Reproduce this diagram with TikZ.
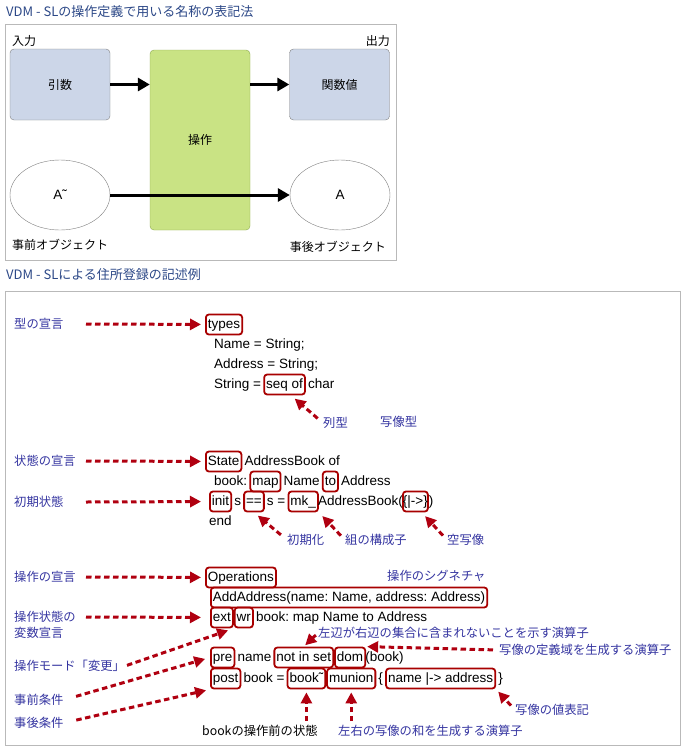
\documentclass[tikz,border=0pt]{standalone}
\usepackage{fontspec}
\setmainfont{Liberation Sans}
\newfontfamily\jpfont{Noto Sans CJK JP}
\usepackage{xcolor}
\usetikzlibrary{arrows.meta,positioning,shapes.geometric}
\frenchspacing
\definecolor{titleblue}{RGB}{44,72,135}
\definecolor{noteblue}{RGB}{52,52,160}
\definecolor{boxred}{RGB}{168,0,0}
\definecolor{arrowred}{RGB}{176,0,16}
\definecolor{framegray}{RGB}{185,185,185}
\definecolor{inblue}{RGB}{204,214,232}
\definecolor{opgreen}{RGB}{201,227,132}
\definecolor{opedge}{RGB}{140,170,80}
\newcommand{\codefont}{\fontsize{13.5pt}{16pt}\selectfont}
\newcommand{\notefont}{\jpfont\fontsize{12.3pt}{16pt}\selectfont}
\tikzset{
  frame/.style={draw=framegray,line width=1pt},
  heading/.style={font=\jpfont\fontsize{13pt}{15pt}\selectfont,text=titleblue,anchor=west,inner sep=0pt},
  jptext/.style={font=\jpfont\fontsize{12pt}{14pt}\selectfont,inner sep=0pt},
  valbox/.style={jptext,draw=gray,fill=inblue,rounded corners=4pt,minimum width=100pt,minimum height=71pt},
  opbox/.style={jptext,draw=opedge,fill=opgreen,rounded corners=4pt,minimum width=100pt,minimum height=180pt},
  objell/.style={ellipse,draw=gray,fill=white,minimum width=100pt,minimum height=70pt,font=\codefont},
  flow/.style={-{Triangle[length=12pt,width=13pt]},line width=3pt},
  code/.style={font=\codefont,anchor=west,inner xsep=2pt,inner ysep=3.5pt,text height=10pt,text depth=3pt},
  keybox/.style={code,draw=boxred,line width=1.8pt,rounded corners=3pt},
  note/.style={font=\notefont,text=noteblue,anchor=west,inner sep=0pt},
  hint/.style={-{Triangle[length=11pt,width=11pt]},draw=arrowred,line width=3pt,dash pattern=on 5.5pt off 3.5pt}
}
\begin{document}
\begin{tikzpicture}[x=1pt,y=-1pt,node distance=0pt]
\useasboundingbox (0,0) rectangle (685,750);

% notation of an operation
\node[heading] (head1) at (6,12) {VDM - SLの操作定義で用いる名称の表記法};
\draw[frame] (5,24) rectangle (396,260);
\node[jptext,anchor=west] (inlbl) at (12,41) {入力};
\node[jptext,anchor=east] (outlbl) at (390,41) {出力};
\node[valbox] (arg) at (60,84.5) {引数};
\node[opbox] (op) at (200,140) {操作};
\node[valbox] (ret) at (339.5,84.5) {関数値};
\node[objell] (before) at (60,195) {A˜};
\node[objell] (after) at (340,195) {A};
\node[jptext,anchor=west] (beforelbl) at (12,245) {事前オブジェクト};
\node[jptext,anchor=east] (afterlbl) at (386,247) {事後オブジェクト};
\draw[flow] (arg.east) -- (arg.east -| op.west);
\draw[flow] (op.east |- ret.west) -- (ret.west);
\draw[flow] (before) -- (after);

% address book example
\node[heading] (head2) at (6,275) {VDM - SLによる住所登録の記述例};
\draw[frame] (5,291) rectangle (680,745);

\node[keybox] (types) at (205,324.5) {types};
\node[code] (tline1) at (212,344.5) {Name = String;};
\node[code] (tline2) at (212,364.5) {Address = String;};
\node[code] (tline3) at (212,384.5) {String =};
\node[keybox] (seqof) [right=of tline3] {seq of};
\node[code] (chartxt) [right=of seqof] {char};

\node[keybox] (state) at (205,461.5) {State};
\node[code] (sline) [right=of state] {AddressBook of};
\node[code] (bookl) at (212,481.5) {book:};
\node[keybox] (mapk) [right=of bookl] {map};
\node[code] (namew) [right=of mapk] {Name};
\node[keybox] (tok) [right=of namew] {to};
\node[code] (addrw) [right=of tok] {Address};
\node[keybox] (initk) at (209,501.5) {init};
\node[code] (sw) [right=of initk] {s};
\node[keybox] (eqeq) [right=of sw] {==};
\node[code] (sw2) [right=of eqeq] {s =};
\node[keybox] (mk) [right=of sw2] {mk\_};
\node[code] (abk) [right=-3pt of mk] {AddressBook(};
\node[keybox,inner xsep=0pt] (emp) [right=-3pt of abk] {\{|->\}};
\node[code] (closep) [right=-2pt of emp] {)};
\node[code] (endw) at (207,521.5) {end};

\node[keybox] (ops) at (205,577.5) {Operations};
\node[keybox] (sig) at (210,597.5) {AddAddress(name: Name, address: Address)};
\node[keybox] (ext) at (210,617.5) {ext};
\node[keybox] (wr) [right=of ext] {wr};
\node[code] (extrest) [right=of wr] {book: map Name to Address};
\node[keybox] (pre) at (210,657.5) {pre};
\node[code] (prename) [right=of pre] {name};
\node[keybox] (notin) [right=of prename] {not in set};
\node[keybox] (dom) [right=of notin] {dom};
\node[code] (dombook) [right=-3pt of dom] {(book)};
\node[keybox] (post) at (210,678.5) {post};
\node[code] (postbook) [right=of post] {book =};
\node[keybox] (bookold) [right=of postbook] {book˜};
\node[keybox] (munion) [right=of bookold] {munion};
\node[code] (lbrace) [right=of munion] {\{};
\node[keybox] (maplet) [right=of lbrace] {name |-> address};
\node[code] (rbrace) [right=of maplet] {\}};

% notes
\node[note] (typelbl) at (14,324) {型の宣言};
\node[note] (rowlbl) at (323,423) {列型};
\node[note] (mapty) at (380,422) {写像型};
\node[note] (statelbl) at (14,461) {状態の宣言};
\node[note] (initlbl) at (14,502) {初期状態};
\node[note] (initzlbl) at (287,540) {初期化};
\node[note] (tuplelbl) at (345,540) {組の構成子};
\node[note] (emplbl) at (447,540) {空写像};
\node[note] (opslbl) at (14,577) {操作の宣言};
\node[note] (siglbl) at (387,576) {操作のシグネチャ};
\node[note] (extlbl) at (14,617) {操作状態の};
\node[note] (extlbl2) at (14,633) {変数宣言};
\node[note] (notinlbl) at (318,633) {左辺が右辺の集合に含まれないことを示す演算子};
\node[note] (domlbl) at (499,650) {写像の定義域を生成する演算子};
\node[note] (modelbl) at (14,666) {操作モード「変更」};
\node[note] (prelbl) at (14,700) {事前条件};
\node[note] (vallbl) at (515,710) {写像の値表記};
\node[note] (postlbl) at (14,723) {事後条件};
\node[note,text=black] (oldlbl) at (202,731) {bookの操作前の状態};
\node[note] (unionlbl) at (338,731) {左右の写像の和を生成する演算子};

\coordinate (tail) at (86,0);
\draw[hint,shorten >=4pt] (typelbl.east -| tail) -- (types);
\draw[hint,shorten >=4pt] (statelbl.east -| tail) -- (state);
\draw[hint,shorten >=8pt] (initlbl.east -| tail) -- (initk);
\draw[hint,shorten >=4pt] (opslbl.east -| tail) -- (ops);
\draw[hint,shorten >=9pt] (extlbl.east -| tail) -- (ext);
\draw[hint,shorten <=2pt,shorten >=6pt] (modelbl.east) -- (ext.south east);
\draw[hint,shorten <=13pt,shorten >=5pt] (prelbl.east) -- (pre.west);
\draw[hint,shorten <=13pt,shorten >=4pt] (postlbl.east) -- (post.south west);
\draw[hint,shorten <=7pt,shorten >=5pt] (rowlbl.west) -- (seqof.-60);
\draw[hint,shorten <=8pt,shorten >=5pt] (initzlbl.west) -- (eqeq.south);
\draw[hint,shorten <=6pt,shorten >=5pt] (tuplelbl.west) -- (mk.south east);
\draw[hint,shorten <=6pt,shorten >=5pt] (emplbl.west) -- (emp.-60);
\draw[hint,shorten <=3pt,shorten >=2pt] (notinlbl.west) -- (notin.north);
\draw[hint,shorten <=6pt,shorten >=1pt] (domlbl.west) -- (dom.north east);
\draw[hint,shorten <=6pt,shorten >=3pt] (vallbl.west) -- (maplet.south east);
\draw[hint,shorten <=4pt,shorten >=3pt] (bookold.south |- oldlbl.north) -- (bookold.south);
\draw[hint,shorten <=4pt,shorten >=3pt] (munion.south |- unionlbl.north) -- (munion.south);
\end{tikzpicture}
\end{document}
